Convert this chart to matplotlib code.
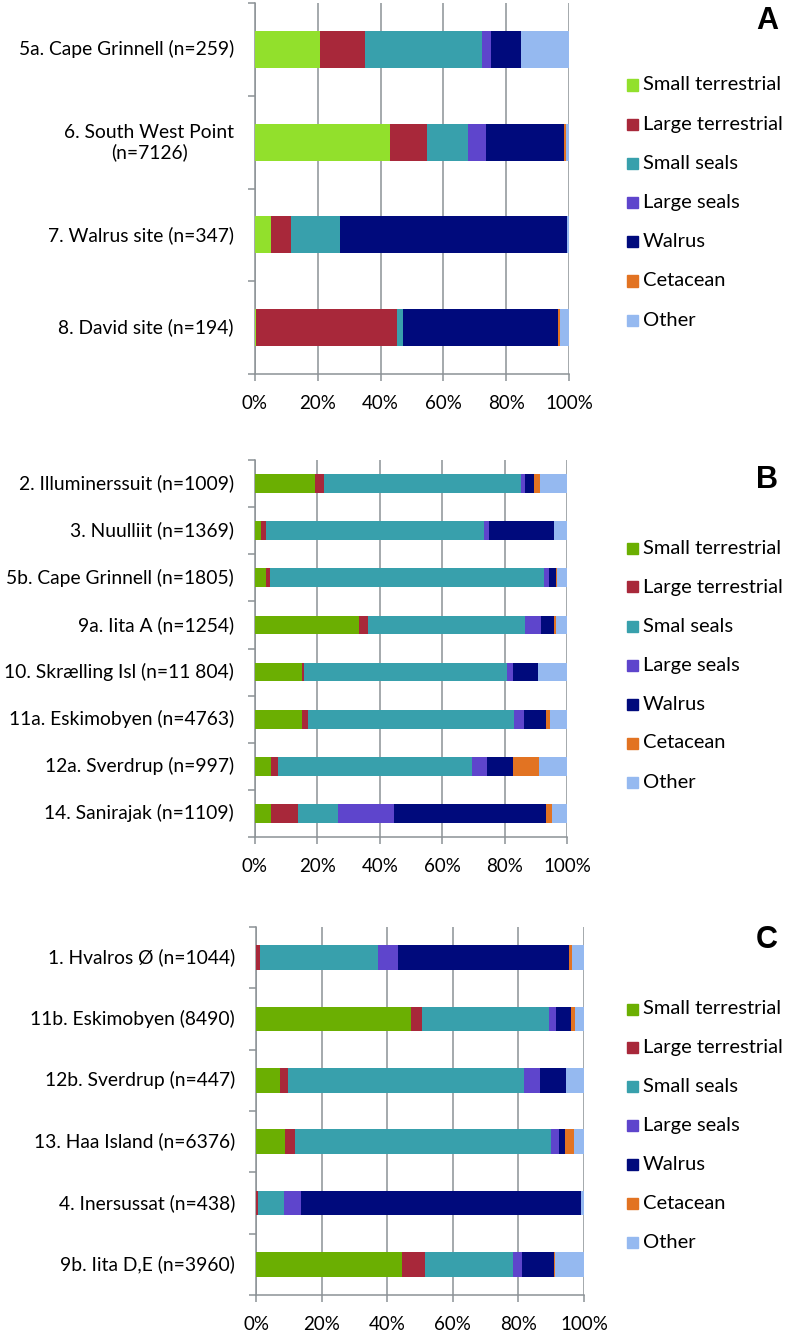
import matplotlib
matplotlib.use("Agg")
import matplotlib.pyplot as plt
import numpy as np

plt.rcParams["font.family"] = ["Lato", "DejaVu Sans"]

CATS = ["Small terrestrial", "Large terrestrial", "Small seals", "Large seals",
        "Walrus", "Cetacean", "Other"]
CATS_B = ["Small terrestrial", "Large terrestrial", "Smal seals", "Large seals",
          "Walrus", "Cetacean", "Other"]

# panel A
sites_a = ["5a. Cape Grinnell (n=259)", "6. South West Point\n(n=7126)",
           "7. Walrus site (n=347)", "8. David site (n=194)"]
vals_a = [
    [20.7, 14.3, 37.2, 2.8, 9.6, 0.0, 15.4],
    [43.0, 11.7, 13.1, 5.8, 24.9, 0.4, 1.1],
    [5.2, 6.4, 15.5, 0.0, 72.4, 0.0, 0.5],
    [0.3, 44.9, 2.0, 0.0, 49.4, 0.4, 3.0],
]

# panel B
sites_b = ["2. Illuminerssuit (n=1009)", "3. Nuulliit (n=1369)",
           "5b. Cape Grinnell (n=1805)", "9a. Iita A (n=1254)",
           "10. Skrælling Isl (n=11 804)", "11a. Eskimobyen (n=4763)",
           "12a. Sverdrup (n=997)", "14. Sanirajak (n=1109)"]
vals_b = [
    [19.3, 2.8, 63.2, 1.3, 2.8, 2.0, 8.6],
    [1.9, 1.5, 69.9, 1.7, 20.9, 0.0, 4.1],
    [3.4, 1.4, 87.8, 1.6, 2.4, 0.2, 3.2],
    [33.2, 3.1, 50.3, 5.1, 4.1, 0.8, 3.4],
    [15.0, 0.6, 65.1, 2.1, 7.8, 0.0, 9.4],
    [15.0, 2.0, 66.0, 3.3, 7.1, 1.1, 5.5],
    [5.1, 2.3, 62.1, 4.7, 8.4, 8.5, 8.9],
    [5.1, 8.8, 12.7, 18.0, 48.8, 1.9, 4.7],
]

# panel C
sites_c = ["1. Hvalros Ø (n=1044)", "11b. Eskimobyen (8490)",
           "12b. Sverdrup (n=447)", "13. Haa Island (n=6376)",
           "4. Inersussat (n=438)", "9b. Iita D,E (n=3960)"]
vals_c = [
    [0.0, 1.3, 35.8, 6.1, 52.1, 1.0, 3.7],
    [47.3, 3.4, 38.5, 2.2, 4.7, 1.3, 2.6],
    [7.2, 2.6, 71.8, 4.9, 8.1, 0.0, 5.4],
    [8.7, 3.2, 78.0, 2.4, 2.0, 2.8, 2.9],
    [0.0, 0.5, 7.9, 5.4, 85.4, 0.0, 0.8],
    [44.5, 6.9, 26.9, 2.7, 9.8, 0.4, 8.8],
]

COLORS = ["#6BAF02", "#A8283A", "#38A0AC", "#5E45CC", "#000A7C", "#E27322", "#95B9F0"]
COLORS_A = ["#92E02C"] + COLORS[1:]
GRID = "#8C9296"

W, H = 786, 1336
fig = plt.figure(figsize=(W / 100, H / 100), dpi=100)


def panel(box, sites, vals, cats, colors, letter, legend_y, legend_step):
    x0, x1, y0, y1 = box
    ax = fig.add_axes([x0 / W, 1 - y1 / H, (x1 - x0) / W, (y1 - y0) / H])
    data = np.array(vals, dtype=float)
    data = data / data.sum(axis=1, keepdims=True)
    y = np.arange(len(sites))
    left = np.zeros(len(sites))
    for j, cat in enumerate(cats):
        ax.barh(y, data[:, j], left=left, height=0.4, color=colors[j],
                label=cat, zorder=3)
        left += data[:, j]
    ax.set_xlim(0, 1)
    ax.set_ylim(len(sites) - 0.5, -0.5)
    ax.set_xticks(np.linspace(0, 1, 6))
    ax.set_xticklabels([f"{int(v)}%" for v in np.linspace(0, 100, 6)], fontsize=13.5)
    ax.xaxis.grid(True, color=GRID, lw=1.1, zorder=0)
    ax.tick_params(axis="x", length=5, color=GRID, width=1.1, pad=10)
    ax.set_yticks(np.arange(len(sites) + 1) - 0.5)
    ax.set_yticklabels([])
    ax.tick_params(axis="y", length=5, color=GRID, width=1.1)
    for i, s in enumerate(sites):
        ax.text(-21 / (x1 - x0), i, s, ha="right", va="center", fontsize=13.9,
                multialignment="center", linespacing=1.15,
                transform=ax.get_yaxis_transform())
    for sp in ("top", "right"):
        ax.spines[sp].set_visible(False)
    for sp in ("left", "bottom"):
        ax.spines[sp].set_color(GRID)
        ax.spines[sp].set_linewidth(1.1)
    fig.text(778 / W, 1 - legend_y[0] / H, letter, ha="right", va="center",
             fontsize=22, fontweight="bold", family=["Liberation Sans", "DejaVu Sans"])
    for j, cat in enumerate(cats):
        yy = 1 - (legend_y[1] + j * legend_step) / H
        fig.patches.append(plt.Rectangle((627 / W, yy - 5.5 / H), 11 / W, 11 / H,
                                         transform=fig.transFigure, color=colors[j]))
        fig.text(643 / W, yy, cat, ha="left", va="center", fontsize=14.5)
    return ax


panel((255, 569, 3, 374), sites_a, vals_a, CATS, COLORS_A, "A", (21, 85), 39.2)
panel((255, 567, 460, 837), sites_b, vals_b, CATS_B, COLORS, "B", (480, 548), 39)
panel((256, 584, 927, 1295), sites_c, vals_c, CATS, COLORS, "C", (940, 1009), 38.9)

fig.savefig("out.png", dpi=100, facecolor="white")
